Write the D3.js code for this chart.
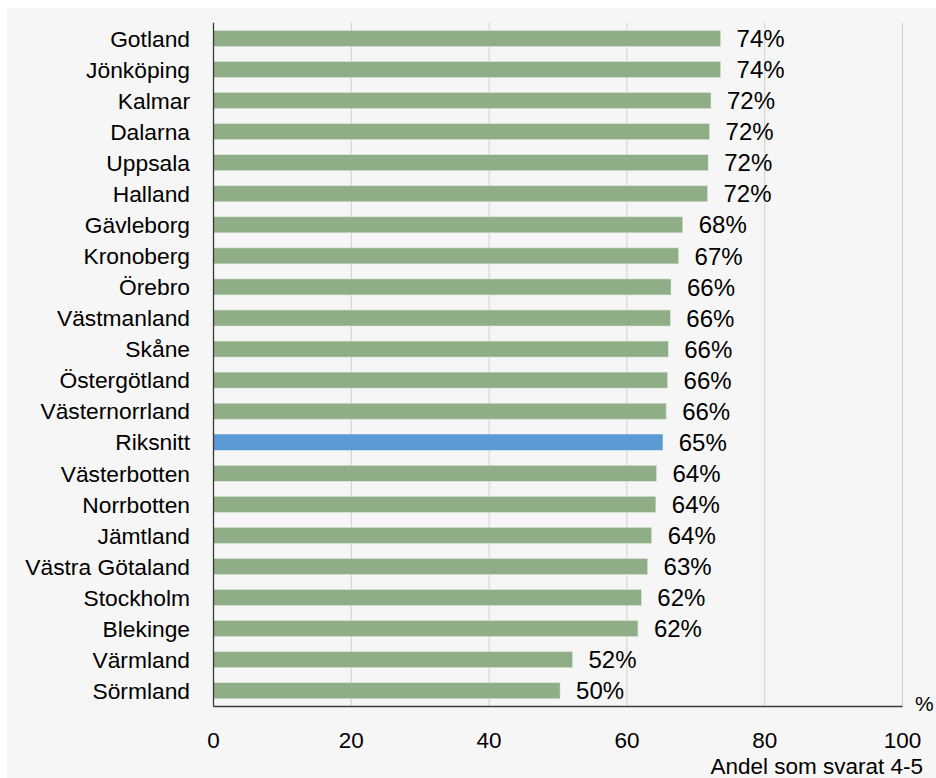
<!DOCTYPE html>
<html>
<head>
<meta charset="utf-8">
<script src="https://cdn.jsdelivr.net/npm/d3@7"></script>
<style>
  html, body { margin: 0; padding: 0; background: #ffffff; }
  svg { display: block; }
  text { font-family: "Liberation Sans", Arial, sans-serif; fill: #000; }
</style>
</head>
<body>
<svg id="chart" width="936" height="778"></svg>
<script>
const categories = ["Gotland","Jönköping","Kalmar","Dalarna","Uppsala","Halland","Gävleborg","Kronoberg","Örebro","Västmanland","Skåne","Östergötland","Västernorrland","Riksnitt","Västerbotten","Norrbotten","Jämtland","Västra Götaland","Stockholm","Blekinge","Värmland","Sörmland"];
const values = [73.6,73.6,72.2,72.0,71.8,71.7,68.1,67.5,66.4,66.3,66.0,65.9,65.7,65.2,64.3,64.2,63.6,63.0,62.1,61.6,52.1,50.3];
const valueLabels = ["74%","74%","72%","72%","72%","72%","68%","67%","66%","66%","66%","66%","66%","65%","64%","64%","64%","63%","62%","62%","52%","50%"];
const highlight = ["Riksnitt"];
const xTicks = [0,20,40,60,80,100];
const xAxisTitle = "Andel som svarat 4-5";
const unitLabel = "%";

(function () {
const svg = d3.select("#chart");
const W = 936, H = 778;
const mLeft = 213.5, mRight = 902.5, mTop = 22.7, mBottom = 706.5;

svg.append("rect").attr("x", 7).attr("y", 8).attr("width", W - 7).attr("height", H - 8).attr("fill", "#f6f6f6");

const x = d3.scaleLinear().domain([0, 100]).range([mLeft, mRight]);
const y = d3.scaleBand().domain(categories).range([mTop, mBottom]).paddingInner(0.485).paddingOuter(0.25);

// gridlines
svg.append("g").selectAll("line").data(xTicks.filter(d => d > 0)).join("line")
  .attr("x1", d => x(d)).attr("x2", d => x(d))
  .attr("y1", mTop).attr("y2", mBottom)
  .attr("stroke", "#d0d0d0").attr("stroke-width", 1);

// bars
const rows = categories.map((c, i) => ({c, v: values[i], l: valueLabels[i]}));
svg.append("g").selectAll("rect").data(rows).join("rect")
  .attr("x", x(0)).attr("y", d => y(d.c))
  .attr("width", d => x(d.v) - x(0)).attr("height", y.bandwidth())
  .attr("fill", d => highlight.includes(d.c) ? "#5b9bd5" : "#8fae87")
  .attr("stroke", d => highlight.includes(d.c) ? "none" : "#d8e4d4").attr("stroke-width", 0.6);

// value labels
svg.append("g").selectAll("text").data(rows).join("text")
  .attr("x", d => x(d.v) + 16).attr("y", d => y(d.c) + y.bandwidth() / 2)
  .attr("dy", "0.36em").attr("font-size", 24)
  .text(d => d.l);

// category labels
svg.append("g").selectAll("text").data(categories).join("text")
  .attr("x", 190).attr("y", d => y(d) + y.bandwidth() / 2)
  .attr("dy", "0.36em").attr("text-anchor", "end").attr("font-size", 22.8)
  .text(d => d);

// axes lines
svg.append("line").attr("x1", x(0)).attr("x2", x(0)).attr("y1", mTop).attr("y2", mBottom)
  .attr("stroke", "#3a3a3a").attr("stroke-width", 1.3);
svg.append("line").attr("x1", x(0)).attr("x2", mRight).attr("y1", mBottom).attr("y2", mBottom)
  .attr("stroke", "#3a3a3a").attr("stroke-width", 1.3);

// tick labels
svg.append("g").selectAll("text").data(xTicks).join("text")
  .attr("x", d => x(d)).attr("y", 740).attr("dy", "0.36em")
  .attr("text-anchor", "middle").attr("font-size", 22.5)
  .text(d => d);

svg.append("text").attr("x", 923).attr("y", 766).attr("dy", "0.36em")
  .attr("text-anchor", "end").attr("font-size", 22.5).text(xAxisTitle);
svg.append("text").attr("x", 915).attr("y", 703).attr("dy", "0.36em")
  .attr("font-size", 21).text(unitLabel);
})();
</script>
</body>
</html>
